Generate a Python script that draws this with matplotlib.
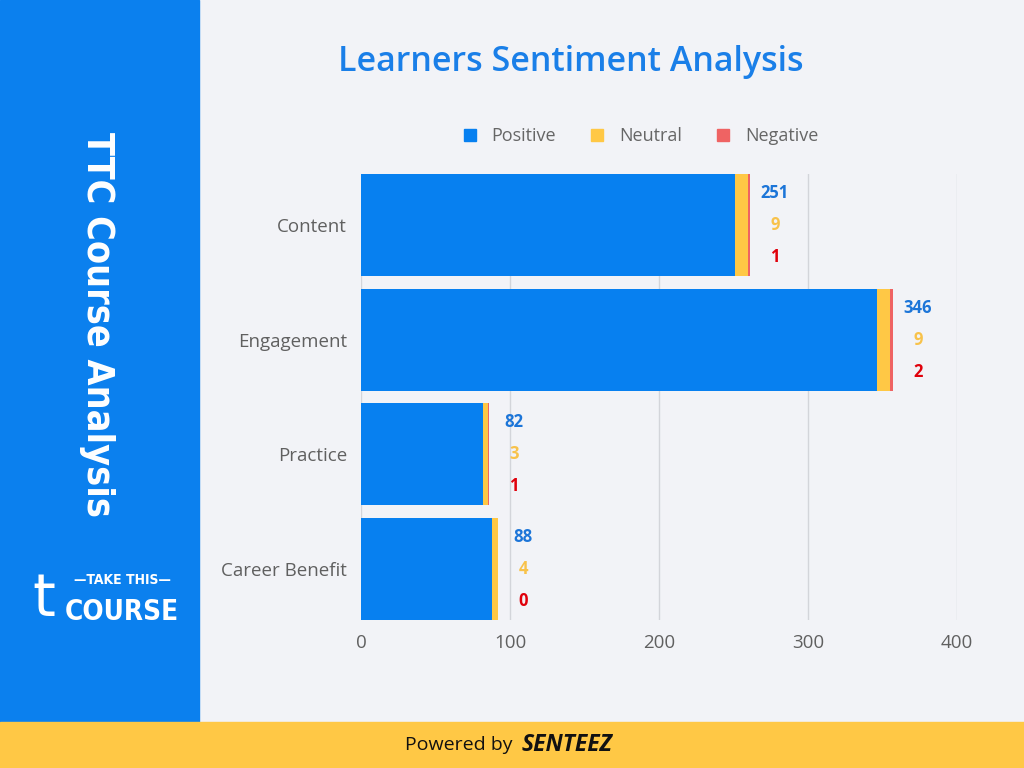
import matplotlib
matplotlib.use("Agg")
import matplotlib.pyplot as plt
from matplotlib.patches import Rectangle
from matplotlib.lines import Line2D
from matplotlib import font_manager as fm
import numpy as np

categories = ["Content", "Engagement", "Practice", "Career Benefit"]
positive = [251, 346, 82, 88]
neutral = [9, 9, 3, 4]
negative = [1, 2, 1, 0]
series_names = ["Positive", "Neutral", "Negative"]
xticks = [0, 100, 200, 300, 400]

BG = "#F2F3F7"
BLUE = "#0780F0"
YELLOW = "#FFC845"
RED = "#EF6363"
LBL_BLUE = "#1C75D8"
LBL_YEL = "#F8C24A"
LBL_RED = "#E0000B"

fig = plt.figure(figsize=(10.24, 7.68), dpi=100)
fig.patch.set_facecolor(BG)

fig.add_artist(Rectangle((0, (768 - 722) / 768), 199 / 1024, 722 / 768,
                         transform=fig.transFigure, color="#0B80EE", zorder=0))
fig.add_artist(Rectangle((0, 0), 1, 46 / 768, transform=fig.transFigure,
                         color=YELLOW, zorder=0))

cond = fm.FontProperties(family="DejaVu Sans", weight="bold", stretch="condensed")

def ctext(x, y, s, size, **kw):
    fp = cond.copy()
    fp.set_size(size)
    return fig.text(x, y, s, fontproperties=fp, color="white", **kw)

ctext(97 / 1024, 1 - 325 / 768, "TTC Course Analysis", 27, rotation=-90,
      ha="center", va="center")
fig.text(44 / 1024, 1 - 600 / 768, "t", ha="center", va="center",
         color="white", fontsize=42, family=["DejaVu Sans"])
ctext(122 / 1024, 1 - 580 / 768, "—TAKE THIS—", 10, ha="center", va="center")
ctext(122 / 1024, 1 - 612 / 768, "COURSE", 20, ha="center", va="center")

fig.text(571 / 1024, 1 - 62 / 768, "Learners Sentiment Analysis",
         ha="center", va="center", color="#1A7FE8", fontsize=24.5,
         fontweight="semibold", family=["Open Sans", "DejaVu Sans"])

fig.text(0.5 + 6 / 1024, 1 - 745 / 768, "Powered by ", ha="right", va="center",
         fontsize=14, color="#111111", family=["Open Sans", "DejaVu Sans"])
fig.text(0.5 + 10 / 1024, 1 - 745 / 768, "SENTEEZ", ha="left", va="center",
         fontsize=16.5, color="#111111", fontweight="bold", style="italic",
         family=["Open Sans", "DejaVu Sans"])

ax = fig.add_axes([361 / 1024, (768 - 620) / 768, (957 - 361) / 1024, 446 / 768])
ax.set_facecolor(BG)
y = np.arange(len(categories))
h = 0.89
pos = np.array(positive)
neu = np.array(neutral)
neg = np.array(negative)
ax.barh(y, pos, height=h, color=BLUE, zorder=3, label=series_names[0])
ax.barh(y, neu, left=pos, height=h, color=YELLOW, zorder=3, label=series_names[1])
ax.barh(y, neg, left=pos + neu, height=h, color=RED, zorder=3, label=series_names[2])

ax.set_xlim(0, 400)
ax.set_ylim(3 + h / 2, -h / 2)
ax.set_xticks(xticks)
ax.set_yticks(y)
ax.set_yticklabels(categories)
ax.tick_params(axis="both", length=0, labelsize=13.5, colors="#666666")
ax.tick_params(axis="y", pad=10)
ax.tick_params(axis="x", pad=10)
for lab in ax.get_xticklabels() + ax.get_yticklabels():
    lab.set_family(["Open Sans", "DejaVu Sans"])
    lab.set_color("#606060")
for s in ax.spines.values():
    s.set_visible(False)
ax.grid(axis="x", color="#D3D5DA", linewidth=1, zorder=0)
ax.set_axisbelow(True)

for i in range(len(categories)):
    end = pos[i] + neu[i] + neg[i]
    for val, dy, col in [(pos[i], -0.28, LBL_BLUE), (neu[i], 0.0, LBL_YEL),
                         (neg[i], 0.28, LBL_RED)]:
        ax.annotate(str(val), xy=(end, y[i] + dy), xytext=(18, 0),
                    textcoords="offset points", ha="center", va="center",
                    color=col, fontsize=12, fontweight="bold",
                    family=["Open Sans", "DejaVu Sans"])

handles = [Line2D([], [], marker="s", linestyle="", markersize=8, color=c)
           for c in (BLUE, YELLOW, RED)]
leg = fig.legend(handles, series_names, loc="center", ncol=3,
                 bbox_to_anchor=(635 / 1024, 1 - 136 / 768), frameon=False,
                 handletextpad=0.2, columnspacing=1.3,
                 prop={"family": ["Open Sans", "DejaVu Sans"], "size": 13})
for t in leg.get_texts():
    t.set_color("#666666")

fig.savefig("out.png", dpi=100, facecolor=BG)
